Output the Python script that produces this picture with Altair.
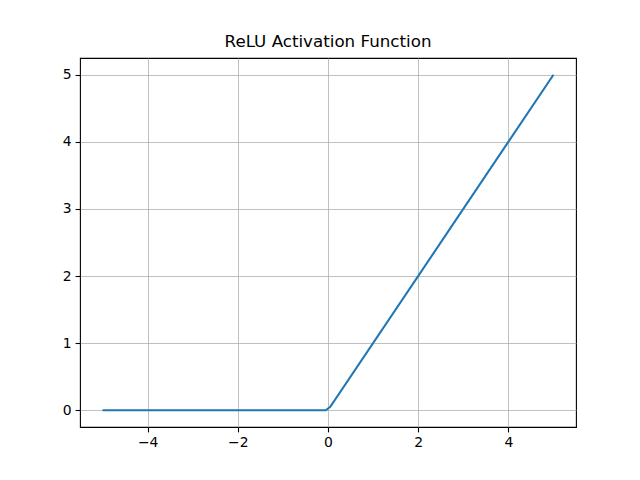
import altair as alt
import pandas as pd

x_vals = [-5.0, -0.0505, 0.0505, 5.0]
y_vals = [0.0, 0.0, 0.0505, 5.0]
x_ticks = [-4, -2, 0, 2, 4]
y_ticks = [0, 1, 2, 3, 4, 5]

df = pd.DataFrame({"x": x_vals, "y": y_vals})

font = "DejaVu Sans"

chart = alt.Chart(df).mark_line(color="#1f77b4", strokeWidth=2.08, clip=True).encode(
    x=alt.X("x:Q", scale=alt.Scale(domain=[-5.5, 5.5], nice=False, zero=False),
            axis=alt.Axis(values=x_ticks, title=None, grid=True, format="d")),
    y=alt.Y("y:Q", scale=alt.Scale(domain=[-0.25, 5.25], nice=False, zero=False),
            axis=alt.Axis(values=y_ticks, title=None, grid=True, format="d")),
).properties(
    width=496,
    height=369,
    background="white",
    title=alt.TitleParams("ReLU Activation Function", font=font, fontSize=16.7,
                          fontWeight="normal", color="black", offset=7, anchor="middle"),
    autosize=alt.AutoSizeParams(type="none"),
    padding={"left": 72, "top": 50, "right": 56, "bottom": 45},
).configure_view(
    stroke="black", strokeWidth=1.1
).configure_axis(
    domain=False,
    gridColor="#b0b0b0", gridWidth=0.8, gridOpacity=1,
    tickColor="black", tickSize=4.9, tickWidth=1.1,
    labelFont=font, labelFontSize=13.9, labelColor="black", labelPadding=4,
)

chart.save("out.html", embed_options={"renderer": "svg", "actions": False})
